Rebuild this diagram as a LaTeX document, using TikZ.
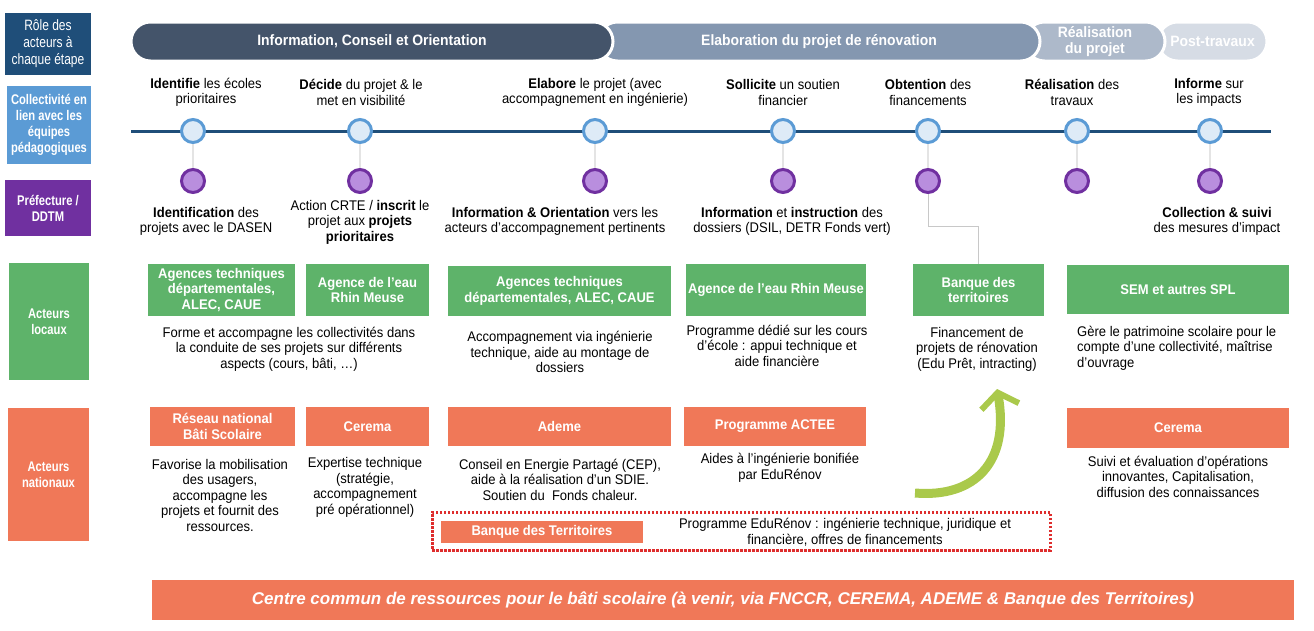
\documentclass[tikz,border=0pt]{standalone}
\usepackage{fontspec}
\setmainfont{Liberation Sans}[FakeStretch=0.93]
\newfontfamily\narrowfont{Liberation Sans}[FakeStretch=0.8]
\newfontfamily\widefont{Liberation Sans}
\usetikzlibrary{arrows.meta}

\definecolor{navy}{RGB}{31,78,121}
\definecolor{skyblue}{RGB}{91,155,213}
\definecolor{paleblue}{RGB}{222,235,247}
\definecolor{prefpurple}{RGB}{112,48,160}
\definecolor{lilac}{RGB}{185,142,222}
\definecolor{slate}{RGB}{68,84,106}
\definecolor{steel}{RGB}{132,151,176}
\definecolor{mist}{RGB}{173,185,202}
\definecolor{haze}{RGB}{214,220,229}
\definecolor{locgreen}{RGB}{94,179,106}
\definecolor{natorange}{RGB}{240,120,88}
\definecolor{dotred}{RGB}{222,45,45}
\definecolor{arrowgreen}{RGB}{170,201,75}
\definecolor{stemgray}{RGB}{228,228,228}
\definecolor{elbowgray}{RGB}{200,200,200}

\newcommand{\bodyfont}{\fontsize{14}{15.5}\selectfont}

\begin{document}
\begin{tikzpicture}[x=1pt, y=-1pt,
  lbl/.style={text=white, align=center, inner sep=0, font=\narrowfont\bfseries\fontsize{14}{16}\selectfont},
  phase/.style={rounded corners=19.5pt, draw=white, line width=3pt, minimum height=39pt,
    text=white, align=center, inner sep=0, font=\bfseries\fontsize{15}{16}\selectfont},
  dot/.style={circle, minimum size=23pt, line width=3pt, inner sep=0},
  stage/.style={dot, draw=skyblue, fill=paleblue},
  milestone/.style={dot, draw=prefpurple, fill=lilac},
  stem/.style={stemgray, line width=2.5pt},
  desc/.style={align=center, inner sep=0, font=\bodyfont},
  gbox/.style={fill=locgreen, text=white, align=center, inner sep=0, font=\bfseries\bodyfont},
  obox/.style={fill=natorange, text=white, align=center, inner sep=0, font=\bfseries\bodyfont}]
  \useasboundingbox (0,0) rectangle (1314,630);

  % Row labels
  \node[lbl, fill=navy, minimum width=86pt, minimum height=62pt, font=\narrowfont\fontsize{15}{17}\selectfont] (role) at (48,44) {Rôle des\\acteurs à\\chaque étape};
  \node[lbl, fill=skyblue, minimum width=84pt, minimum height=78pt] (coll) at (49,125) {Collectivité en\\lien avec les\\équipes\\pédagogiques};
  \node[lbl, fill=prefpurple, minimum width=86pt, minimum height=56pt] (pref) at (48,208) {Préfecture /\\DDTM};
  \node[lbl, fill=locgreen, minimum width=80pt, minimum height=117pt] (loc) at (49,321.5) {Acteurs\\locaux};
  \node[lbl, fill=natorange, minimum width=81pt, minimum height=133pt] (nat) at (48.5,474.5) {Acteurs\\nationaux};

  % Phase banners (right to left)
  \node[phase, fill=haze, minimum width=109pt] (ph4) at (1212.5,41.5) {Post-travaux};
  \node[phase, fill=mist, minimum width=140pt] (ph3) at (1095,41.5) {Réalisation\\du projet};
  \node[phase, fill=steel, minimum width=442pt] (ph2) at (819,41.5) {Elaboration du projet de rénovation};
  \node[phase, fill=slate, minimum width=482pt] (ph1) at (372,41.5) {Information, Conseil et Orientation};

  % Timeline
  \coordinate (tl-w) at (131,131);
  \coordinate (tl-e) at (1271,131);
  \draw[navy, line width=3pt] (tl-w) -- (tl-e);

  % Steps of the collectivite
  \node[stage] (c1) at (193,131) {};
  \node[stage] (c2) at (360,131) {};
  \node[stage] (c3) at (595,131) {};
  \node[stage] (c4) at (783,131) {};
  \node[stage] (c5) at (928,131) {};
  \node[stage] (c6) at (1077,131) {};
  \node[stage] (c7) at (1210,131) {};

  % Steps of the prefecture
  \node[milestone] (p1) at (193,181) {};
  \node[milestone] (p2) at (360,181) {};
  \node[milestone] (p3) at (595,181) {};
  \node[milestone] (p4) at (783,181) {};
  \node[milestone] (p5) at (928,181) {};
  \node[milestone] (p6) at (1077,181) {};
  \node[milestone] (p7) at (1210,181) {};

  \draw[stem] (c1) -- (p1);
  \draw[stem] (c2) -- (p2);
  \draw[stem] (c3) -- (p3);
  \draw[stem] (c4) -- (p4);
  \draw[stem] (c5) -- (p5);
  \draw[stem] (c6) -- (p6);
  \draw[stem] (c7) -- (p7);

  \node[desc] (t1) at (206,92.5) {\textbf{Identifie} les écoles\\prioritaires};
  \node[desc] (t2) at (361,92.5) {\textbf{Décide} du projet \& le\\met en visibilité};
  \node[desc] (t3) at (595,92.5) {\textbf{Elabore} le projet (avec\\accompagnement en ingénierie)};
  \node[desc] (t4) at (783,92.5) {\textbf{Sollicite} un soutien\\financier};
  \node[desc] (t5) at (928,92.5) {\textbf{Obtention} des\\financements};
  \node[desc] (t6) at (1072,92.5) {\textbf{Réalisation} des\\travaux};
  \node[desc] (t7) at (1209,92.5) {\textbf{Informe} sur\\les impacts};

  \node[desc] (b1) at (206,221.5) {\textbf{Identification} des\\projets avec le DASEN};
  \node[desc] (b2) at (360,222) {Action CRTE / \textbf{inscrit} le\\projet aux \textbf{projets}\\\textbf{prioritaires}};
  \node[desc] (b3) at (555,221.5) {\textbf{Information \& Orientation} vers les\\acteurs d’accompagnement pertinents};
  \node[desc] (b4) at (792,221.5) {\textbf{Information} et \textbf{instruction} des\\dossiers (DSIL, DETR Fonds vert)};
  \node[desc] (b7) at (1217,221.5) {\textbf{Collection \& suivi}\\des mesures d’impact};

  % Acteurs locaux
  \node[gbox, minimum width=147pt, minimum height=52pt] (g1) at (221.5,290) {Agences techniques\\départementales,\\ALEC, CAUE};
  \node[gbox, minimum width=123pt, minimum height=52pt] (g2) at (367.5,290) {Agence de l’eau\\Rhin Meuse};
  \node[gbox, minimum width=223pt, minimum height=50pt] (g3) at (559.5,291) {Agences techniques\\départementales, ALEC, CAUE};
  \node[gbox, minimum width=180pt, minimum height=52pt] (g4) at (776,290) {Agence de l’eau Rhin Meuse};
  \node[gbox, minimum width=131pt, minimum height=52pt] (g5) at (978.5,290) {Banque des\\territoires};
  \node[gbox, minimum width=222pt, minimum height=49pt] (g6) at (1178,289.5) {SEM et autres SPL};

  \coordinate (bend) at (978.5,226);
  \draw[elbowgray, line width=1pt] (p5) |- (bend) -- (g5);

  \node[desc] (d1) at (289,349) {Forme et accompagne les collectivités dans\\la conduite de ses projets sur différents\\aspects (cours, bâti, …)};
  \node[desc] (d3) at (560,352) {Accompagnement via ingénierie\\technique, aide au montage de\\dossiers};
  \node[desc] (d4) at (777,345.5) {Programme dédié sur les cours\\d’école : appui technique et\\aide financière};
  \node[desc] (d5) at (977,349) {Financement de\\projets de rénovation\\(Edu Prêt, intracting)};
  \node[desc, align=left, anchor=west] (d6) at (1077,348) {Gère le patrimoine scolaire pour le\\compte d’une collectivité, maîtrise\\d’ouvrage};

  % Acteurs nationaux
  \node[obox, minimum width=145pt, minimum height=39pt] (o1) at (222.5,426.5) {Réseau national\\Bâti Scolaire};
  \node[obox, minimum width=123pt, minimum height=39pt] (o2) at (367.5,426.5) {Cerema};
  \node[obox, minimum width=223pt, minimum height=39pt] (o3) at (559.5,426.5) {Ademe};
  \node[obox, minimum width=182pt, minimum height=39pt] (o4) at (775,426.5) {Programme ACTEE};
  \node[obox, minimum width=222pt, minimum height=40pt] (o5) at (1178,428) {Cerema};

  \node[desc] (e1) at (220,495) {Favorise la mobilisation\\des usagers,\\accompagne les\\projets et fournit des\\ressources.};
  \node[desc] (e2) at (365,487.5) {Expertise technique\\(stratégie,\\accompagnement\\pré opérationnel)};
  \node[desc] (e3) at (560,479.5) {Conseil en Energie Partagé (CEP),\\aide à la réalisation d’un SDIE.\\Soutien du\ \ Fonds chaleur.};
  \node[desc] (e4) at (780,468) {Aides à l’ingénierie bonifiée\\par EduRénov};
  \node[desc] (e5) at (1178,476.5) {Suivi et évaluation d’opérations\\innovantes, Capitalisation,\\diffusion des connaissances};

  % EduRenov
  \node[draw=dotred, line width=3pt, dash pattern=on 2.5pt off 1.5pt, minimum width=618pt, minimum height=38pt, inner sep=0] (edu) at (741,531) {};
  \node[obox, minimum width=202pt, minimum height=22pt] (bdt) at (542,532) {Banque des Territoires};
  \node[desc] (edutxt) at (845,532) {Programme EduRénov : ingénierie technique, juridique et\\financière, offres de financements};

  % Green arrow
  \coordinate (arr-tail) at (915,493);
  \coordinate (arr-head) at (997,389);
  \draw[arrowgreen, line width=9pt, -{Straight Barb[length=14pt, width=38pt, line width=6pt]}]
    (arr-tail) .. controls (975,498) and (1010,462) .. (arr-head);

  % Centre commun
  \node[obox, minimum width=1142pt, minimum height=40pt, font=\widefont\bfseries\itshape\fontsize{17}{19}\selectfont] (centre) at (723,600) {Centre commun de ressources pour le bâti scolaire (à venir, via FNCCR, CEREMA, ADEME \& Banque des Territoires)};
\end{tikzpicture}
\end{document}
